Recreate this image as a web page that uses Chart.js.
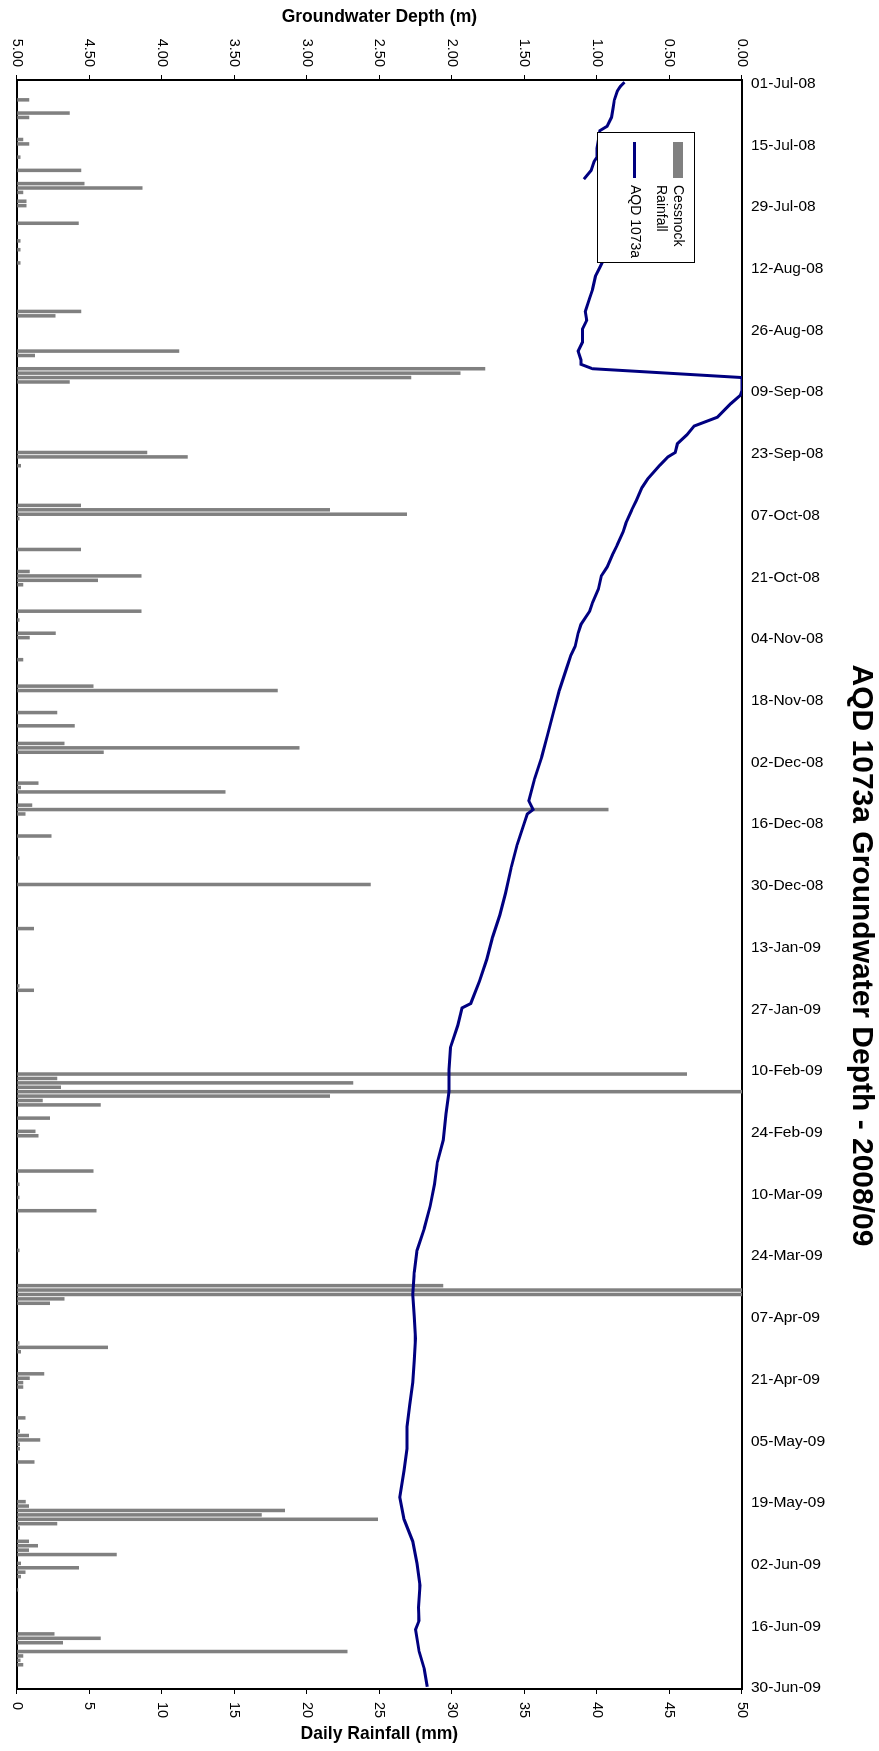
<!DOCTYPE html>
<html>
<head>
<meta charset="utf-8">
<script src="https://cdn.jsdelivr.net/npm/chart.js@4.4.1/dist/chart.umd.min.js"></script>
<style>
  html, body { margin: 0; padding: 0; background: #fff; overflow: hidden; }
  /* chart is laid out landscape, then turned a quarter clockwise */
  #wrap { position: absolute; left: 0; top: 0; width: 1751px; height: 879px;
          transform-origin: 0 0; transform: translate(879px, 0) rotate(90deg); }
</style>
</head>
<body>
<div id="wrap"><canvas id="chart" width="1751" height="879"></canvas></div>
<script>
// day numbers count from 01-Jul-08 (day 0) to 30-Jun-09 (day 364)
const tickLabels = ['01-Jul-08', '15-Jul-08', '29-Jul-08', '12-Aug-08', '26-Aug-08', '09-Sep-08',
  '23-Sep-08', '07-Oct-08', '21-Oct-08', '04-Nov-08', '18-Nov-08', '02-Dec-08', '16-Dec-08',
  '30-Dec-08', '13-Jan-09', '27-Jan-09', '10-Feb-09', '24-Feb-09', '10-Mar-09', '24-Mar-09',
  '07-Apr-09', '21-Apr-09', '05-May-09', '19-May-09', '02-Jun-09', '16-Jun-09', '30-Jun-09'];

// Cessnock daily rainfall (mm), only days with rain
const rainDay = [4, 7, 8, 13, 14, 17, 20, 23, 24, 25, 27, 28, 32, 36, 38, 41, 52, 53, 61, 62,
  65, 66, 67, 68, 84, 85, 87, 96, 97, 98, 99, 106, 111, 112, 113, 114, 120, 122, 125, 126,
  131, 137, 138, 143, 146, 150, 151, 152, 159, 160, 161, 164, 165, 166, 171, 176, 182, 192,
  205, 206, 225, 226, 227, 228, 229, 230, 231, 232, 235, 238, 239, 247, 250, 253, 256, 265,
  273, 274, 275, 276, 277, 286, 287, 288, 293, 294, 295, 296, 303, 306, 307, 308, 309, 310,
  313, 322, 323, 324, 325, 326, 327, 328, 331, 332, 333, 334, 336, 337, 338, 339, 342,
  352, 353, 354, 356, 357, 358, 359];
const rainMm = [0.87, 3.65, 0.87, 0.46, 0.87, 0.27, 4.45, 4.68, 8.68, 0.46, 0.68, 0.68, 4.27, 0.27, 0.27, 0.27, 4.45, 2.67, 11.2, 1.26,
  32.3, 30.6, 27.2, 3.66, 9.0, 11.8, 0.3, 4.43, 21.6, 26.9, 0.2, 4.43, 0.9, 8.6, 5.6, 0.45, 8.6, 0.2, 2.7, 0.9,
  0.45, 5.3, 18.0, 2.8, 4.0, 3.3, 19.5, 6.0, 1.5, 0.3, 14.4, 1.07, 40.8, 0.6, 2.4, 0.2, 24.4, 1.2,
  0.2, 1.2, 46.2, 2.8, 23.2, 3.05, 50, 21.6, 1.8, 5.8, 2.3, 1.3, 1.5, 5.3, 0.2, 0.2, 5.5, 0.2,
  29.4, 50, 50, 3.3, 2.3, 0.2, 6.3, 0.3, 1.9, 0.9, 0.45, 0.45, 0.6, 0.23, 0.85, 1.62, 0.23, 0.23,
  1.23, 0.62, 0.85, 18.5, 16.9, 24.9, 2.8, 0.23, 0.85, 1.47, 0.85, 6.9, 0.3, 4.3, 0.6, 0.3, 0.1,
  2.6, 5.8, 3.2, 22.8, 0.46, 0.27, 0.46];

// AQD 1073a groundwater depth (m below surface); null = no reading
const depthDay = [0, 1, 2, 4, 6, 8, 10, 11, 13, 15, 17, 18, 20, 22, 23,
  40, 42, 44, 47, 49, 52, 54, 56, 59, 61, 63, 64, 65, 67, 68, 70, 71, 73, 76, 78, 80, 82, 84, 85,
  87, 90, 92, 95, 97, 100, 102, 105, 107, 110, 112, 115, 118, 120, 123, 125, 128, 130, 133,
  138, 143, 148, 153, 158, 163, 165, 166, 168, 173, 178, 184, 189, 194, 199, 204, 209, 210, 214, 219,
  224, 229, 234, 240, 245, 250, 255, 260, 265, 270, 275, 280, 285, 290, 295, 300, 305, 310,
  315, 321, 326, 331, 336, 341, 346, 349, 351, 356, 360, 364];
const depthM = [0.81, 0.84, 0.86, 0.88, 0.89, 0.90, 0.93, 0.98, 0.99, 1.00, 1.00, 1.02, 1.04, 1.09, null,
  0.95, 0.98, 1.01, 1.03, 1.05, 1.08, 1.07, 1.10, 1.10, 1.13, 1.11, 1.11, 1.03, 0.0, 0.0, 0.0, 0.01, 0.08, 0.17, 0.33, 0.38, 0.445, 0.46, 0.51,
  0.57, 0.65, 0.69, 0.73, 0.76, 0.80, 0.82, 0.86, 0.89, 0.93, 0.97, 0.99, 1.03, 1.05, 1.11, 1.13, 1.15, 1.18, 1.21,
  1.26, 1.30, 1.34, 1.38, 1.43, 1.47, 1.44, 1.48, 1.50, 1.55, 1.59, 1.63, 1.67, 1.72, 1.76, 1.81, 1.87, 1.93, 1.96, 2.01,
  2.02, 2.02, 2.04, 2.06, 2.10, 2.12, 2.15, 2.19, 2.24, 2.26, 2.27, 2.26, 2.25, 2.26, 2.27, 2.29, 2.31, 2.31,
  2.33, 2.36, 2.33, 2.27, 2.24, 2.22, 2.23, 2.226, 2.25, 2.226, 2.19, 2.17];

Chart.defaults.font.family = '"Liberation Sans", Arial, sans-serif';
Chart.defaults.color = '#000';

// legend sits inside the plot with a white box and frame, on top of the line;
// the chart title sits a little past the middle, as in the source sheet
const legendBox = {
  id: 'legendBox',
  afterLayout(chart) {
    const lg = chart.legend;
    lg.left = chart.chartArea.left + 52;
    lg.top = chart.chartArea.top + 47;
    chart.titleBlock.left += 80;
    chart.titleBlock.right += 80;
  },
  afterDatasetsDraw(chart) {
    const lg = chart.legend, ctx = chart.ctx;
    ctx.save();
    ctx.fillStyle = '#fff';
    ctx.fillRect(lg.left, lg.top, 130, 97);
    ctx.strokeStyle = '#000';
    ctx.lineWidth = 1;
    ctx.strokeRect(lg.left + 0.5, lg.top + 0.5, 130, 97);
    ctx.restore();
    lg.draw();
  }
};

// right axis title reads upward like the left one
const rainTitle = {
  id: 'rainTitle',
  afterDraw(chart) {
    const s = chart.scales.y2, ctx = chart.ctx;
    ctx.save();
    ctx.translate(s.left + 45, (s.top + s.bottom) / 2);
    ctx.rotate(-Math.PI / 2);
    ctx.font = 'bold 17.5px "Liberation Sans", Arial, sans-serif';
    ctx.fillStyle = '#000';
    ctx.textAlign = 'center';
    ctx.textBaseline = 'middle';
    ctx.fillText('Daily Rainfall (mm)', 0, 0);
    ctx.restore();
  }
};

const tickFont = { size: 14.5 };
const axisGrid = { drawOnChartArea: false, drawTicks: true, tickLength: 5, color: '#000', lineWidth: 1 };
const axisBorder = { display: true, color: '#000', width: 2 };

new Chart(document.getElementById('chart'), {
  type: 'bar',
  data: {
    datasets: [
      {
        type: 'line',
        label: 'AQD 1073a',
        data: depthDay.map((d, i) => ({ x: d, y: depthM[i] })),
        yAxisID: 'y',
        borderColor: '#000080',
        borderWidth: 3,
        pointRadius: 0,
        tension: 0,
        spanGaps: false,
        order: 0
      },
      {
        type: 'bar',
        label: 'Cessnock Rainfall',
        data: rainDay.map((d, i) => ({ x: d, y: rainMm[i] })),
        yAxisID: 'y2',
        backgroundColor: '#808080',
        borderWidth: 0,
        barPercentage: 0.8,
        categoryPercentage: 1.0,
        order: 1
      }
    ]
  },
  options: {
    responsive: false,
    animation: false,
    events: [],
    layout: { padding: { left: 0, right: 0, top: 0, bottom: 12 } },
    plugins: {
      title: {
        display: true,
        text: 'AQD 1073a Groundwater Depth - 2008/09',
        font: { size: 30, weight: 'bold' },
        padding: { top: 0, bottom: 4 }
      },
      legend: {
        display: true,
        position: 'chartArea',
        align: 'start',
        labels: {
          font: { size: 14 },
          color: '#000',
          boxWidth: 36,
          boxHeight: 10,
          padding: 10,
          usePointStyle: true,
          pointStyleWidth: 36,
          generateLabels: () => [
            { text: ['Cessnock', 'Rainfall'], fillStyle: '#808080', strokeStyle: '#808080', lineWidth: 0, pointStyle: 'rect', datasetIndex: 1 },
            { text: 'AQD 1073a', fillStyle: '#000080', strokeStyle: '#000080', lineWidth: 3, pointStyle: 'line', datasetIndex: 0 }
          ]
        }
      },
      tooltip: { enabled: false }
    },
    scales: {
      x: {
        type: 'linear',
        position: 'top',
        offset: false,
        min: -0.5,
        max: 364.5,
        afterBuildTicks: s => { s.ticks = tickLabels.map((_, i) => ({ value: i * 14 })); },
        afterFit: s => { s.height = 97; },
        ticks: {
          autoSkip: false,
          minRotation: 90,
          maxRotation: 90,
          padding: 9,
          labelOffset: 20,
          font: { size: 15.5 },
          callback: (v, i) => tickLabels[i]
        },
        grid: { display: false, drawTicks: false },
        border: axisBorder
      },
      x2: {
        type: 'linear',
        position: 'bottom',
        offset: false,
        min: -0.5,
        max: 364.5,
        afterFit: s => { s.height = 0; },
        ticks: { display: false },
        grid: { display: false, drawTicks: false },
        border: axisBorder
      },
      y: {
        position: 'left',
        reverse: true,
        min: 0,
        max: 5,
        afterFit: s => { s.width = 80; },
        ticks: { stepSize: 0.5, padding: 8, font: tickFont, callback: v => v.toFixed(2) },
        grid: axisGrid,
        border: axisBorder,
        title: {
          display: true,
          text: 'Groundwater Depth (m)',
          font: { size: 17.5, weight: 'bold' },
          padding: { top: 7, bottom: 0 }
        }
      },
      y2: {
        position: 'right',
        min: 0,
        max: 50,
        afterFit: s => { s.width = 62; },
        ticks: { stepSize: 5, padding: 8, font: tickFont },
        grid: axisGrid,
        border: axisBorder
      }
    }
  },
  plugins: [legendBox, rainTitle]
});
</script>
</body>
</html>
